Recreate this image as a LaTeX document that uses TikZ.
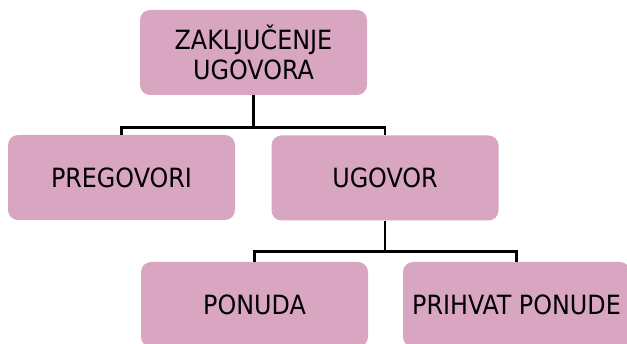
\documentclass[tikz,border=0pt]{standalone}
\usepackage{fontspec}
\setmainfont{DejaVu Sans Condensed}
\usepackage{tikz}
\usetikzlibrary{calc}
\definecolor{roza}{RGB}{217,166,194}

\begin{document}
\begin{tikzpicture}[x=1pt,y=-1pt,
		kutija/.style={fill=roza,rounded corners=10pt,minimum width=227pt,minimum height=85pt,inner sep=0pt,align=center,font=\fontsize{26.5}{30}\selectfont},
		veza/.style={line width=2.8pt,black}]
		\useasboundingbox (0,0) rectangle (627,344);
		\node[kutija] (zak) at (253.5,52.5) {ZAKLJUČENJE\\UGOVORA};
		\node[kutija] (preg) at (121.5,177.5) {PREGOVORI};
		\node[kutija] (ugo) at (385,178) {UGOVOR};
		\node[kutija] (pon) at (254.5,304.5) {PONUDA};
		\node[kutija] (prih) at (516.5,304.5) {PRIHVAT PONUDE};
		\draw[veza] (zak.south) -- ++(0,32) -| (preg.north);
		\draw[veza] (zak.south) -- ++(0,32) -| (ugo.north);
		\draw[veza] (ugo.south) -- ++(0,31) -| (pon.north);
		\draw[veza] (ugo.south) -- ++(0,31) -| (prih.north);
	\end{tikzpicture}
\end{document}
